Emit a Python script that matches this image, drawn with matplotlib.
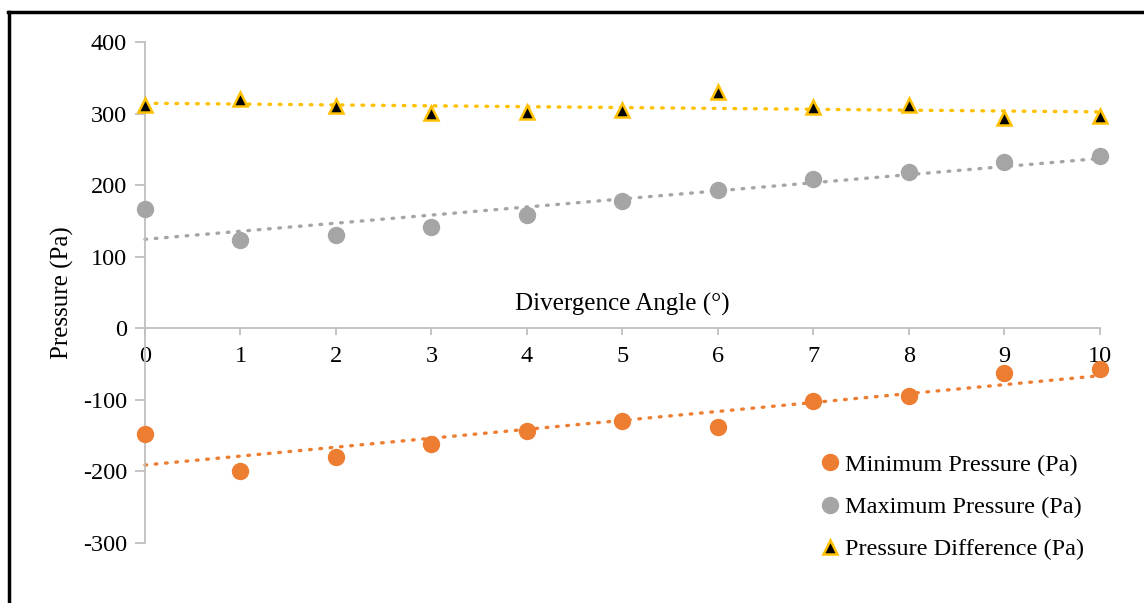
import numpy as np
import matplotlib.pyplot as plt
from matplotlib.lines import Line2D

plt.rcParams['font.family'] = ['Liberation Serif', 'DejaVu Serif']
plt.rcParams['axes.unicode_minus'] = False

angle = np.arange(0, 11)
p_min = [-147, -199, -180, -161, -144, -129, -138, -102, -95, -63, -57]
p_max = [166, 123, 130, 141, 159, 178, 193, 208, 218, 232, 241]
p_diff = [312, 321, 310, 301, 302, 305, 330, 309, 312, 294, 297]

c_min = '#ED7D31'
c_max = '#A5A5A5'
c_diff = '#FFC000'
c_axis = '#BFBFBF'

fig = plt.figure(figsize=(11.44, 6.03), dpi=100)
ax = fig.add_axes([0.1267, 0.0995, 0.8348, 0.8308])

# dotted linear trendlines (like the Excel ones)
for vals, col in [(p_min, c_min), (p_max, c_max), (p_diff, c_diff)]:
    k, b = np.polyfit(angle, vals, 1)
    ax.plot(angle, k * angle + b, color=col, lw=2.4, ls=(0, (0.5, 2.6)),
            dash_capstyle='round', zorder=2, clip_on=False)

ax.plot(angle, p_min, 'o', color=c_min, ms=11.5, label='Minimum Pressure (Pa)',
        zorder=3, clip_on=False)
ax.plot(angle, p_max, 'o', color=c_max, ms=11.5, label='Maximum Pressure (Pa)',
        zorder=3, clip_on=False)
ax.plot(angle, p_diff, '^', mfc='black', mec=c_diff, mew=1.8, ms=10,
        label='Pressure Difference (Pa)', zorder=4, clip_on=False)

ax.set_xlim(0, 10)
ax.set_ylim(-300, 400)
ax.set_xticks(angle)
ax.set_yticks(np.arange(-300, 401, 100))

for s in ['top', 'right']:
    ax.spines[s].set_visible(False)
ax.spines['bottom'].set_position(('data', 0))
ax.spines['bottom'].set_color(c_axis)
ax.spines['left'].set_color(c_axis)
ax.spines['bottom'].set_linewidth(1.3)
ax.spines['left'].set_linewidth(1.3)
ax.tick_params(axis='x', direction='out', length=5, width=1.3, color=c_axis,
               labelsize=17.5, pad=8)
ax.tick_params(axis='y', direction='out', length=7, width=1.3, color=c_axis,
               labelsize=17.5, pad=6)

ax.set_xlabel('Divergence Angle (°)', fontsize=18)
ax.xaxis.set_label_coords(0.5, 0.5)
ax.xaxis.label.set_va('top')
ax.set_ylabel('Pressure (Pa)', fontsize=18, labelpad=6)

leg = ax.legend(loc='upper left', bbox_to_anchor=(0.702, 0.178), frameon=False,
                fontsize=17.5, handletextpad=0.0, handlelength=1.2,
                labelspacing=0.83, borderaxespad=0, borderpad=0)

# outer frame, only left and top edges are inside the image
fig.add_artist(Line2D([0.0080, 0.0080], [0.0, 0.9795], color='black', lw=2.5,
                      transform=fig.transFigure))
fig.add_artist(Line2D([0.0069, 1.0], [0.9795, 0.9795], color='black', lw=2.5,
                      transform=fig.transFigure))

fig.savefig('out.png', dpi=100)
